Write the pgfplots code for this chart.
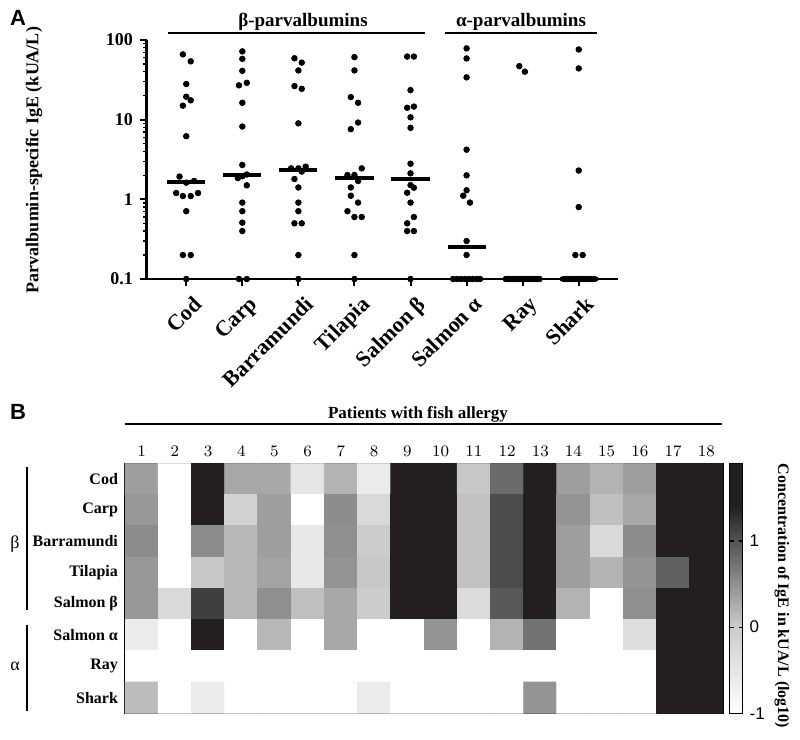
\documentclass[border=0pt]{standalone}
\usepackage{fontspec}
\setmainfont{Liberation Serif}
\newfontfamily\arial{Liberation Sans}
\usepackage{pgfplots}
\usepackage{pgfplotstable}
\pgfplotsset{compat=1.18}

% IgE per patient, x = category index + jitter
\pgfplotstableread{
x y
-0.06 66
0.08 54
0 28
0 19.4
0.08 17.5
-0.06 15
0 6.2
-0.12 1.93
0 1.62
0.14 1.7
-0.18 1.2
-0.06 1.1
0.08 1.1
0.21 1.2
0 0.71
-0.06 0.2
0.08 0.2
0 0.1
1 72
1 58
1 41
0.94 27
1.08 29
1 16.3
1 8.2
1 2.7
0.92 1.85
1 1.95
1.08 2.05
1.08 1.5
1 0.91
1 0.71
1 0.51
1 0.40
0.94 0.1
1.08 0.1
1.93 59
2.06 52
2 41.5
1.93 26.4
2.06 24.4
2 9.0
1.87 2.45
2 2.45
2.13 2.57
2.06 2.23
1.93 1.8
2 1.41
2 0.91
2 0.71
1.93 0.5
2.06 0.5
2 0.2
2 0.1
3 61
3 41.5
2.935 19.2
3.065 16.3
3.065 9.2
2.935 7.6
3.13 2.45
2.875 2.02
3 2.02
3.065 1.7
2.935 1.41
2.935 1.11
3.065 0.91
2.875 0.71
3 0.6
3.13 0.6
3 0.2
3 0.1
3.94 62
4.06 62
4 23.5
3.94 14.1
4.06 14.6
4 10.7
4 7.9
4 2.8
4 2.12
4 1.51
4.06 1.40
3.94 1.21
4 0.91
4.06 0.60
3.94 0.50
3.94 0.40
4.06 0.40
4 0.1
5 78.5
5 58.7
5 34
5 4.2
5 2.0
5 1.3
4.94 1.11
5.06 0.91
5 0.3
5 0.2
4.76 0.1
4.83 0.1
4.9 0.1
4.97 0.1
5.04 0.1
5.11 0.1
5.18 0.1
5.24 0.1
5.94 47
6.04 40
5.70 0.1
5.74 0.1
5.78 0.1
5.82 0.1
5.86 0.1
5.90 0.1
5.94 0.1
5.98 0.1
6.02 0.1
6.06 0.1
6.10 0.1
6.14 0.1
6.18 0.1
6.22 0.1
6.26 0.1
6.30 0.1
7 76
7 44
7 2.3
7 0.8
6.94 0.2
7.07 0.2
6.73 0.1
6.78 0.1
6.83 0.1
6.88 0.1
6.93 0.1
6.98 0.1
7.03 0.1
7.08 0.1
7.13 0.1
7.18 0.1
7.23 0.1
7.28 0.1
}\igedata

\pgfplotstableread{
x y
0 1.66
1 2.0
2 2.31
3 1.87
4 1.82
5 0.25
6 0.1
7 0.1
}\medians

\pgfplotsset{colormap={igegray}{rgb255(0cm)=(255,255,255); rgb255(1cm)=(204,204,204); rgb255(2cm)=(84,84,84); rgb255(2.4cm)=(35,31,32); rgb255(2.9cm)=(35,31,32)}}

\begin{document}
\begin{tikzpicture}
\useasboundingbox (0,0) rectangle (400pt,-370pt);

% ---- panel A ----
\node[font=\arial\bfseries\fontsize{11}{13}\selectfont] at (9pt,-9pt) {A};
\node[font=\bfseries\fontsize{9}{10}\selectfont, rotate=90] at (17pt,-80pt) {Parvalbumin-specific IgE (kUA/L)};
\node[font=\bfseries\fontsize{9.5}{11}\selectfont] at (151.5pt,-11pt) {β-parvalbumins};
\node[font=\bfseries\fontsize{9.5}{11}\selectfont] at (260.5pt,-11pt) {α-parvalbumins};
\draw[line width=0.8pt] (84pt,-16.5pt) -- (212.5pt,-16.5pt);
\draw[line width=0.8pt] (222.5pt,-16.5pt) -- (298.5pt,-16.5pt);

\begin{axis}[
    at={(73.5pt,-139.5pt)}, anchor=south west,
    scale only axis, width=235.5pt, height=119.5pt,
    ymode=log, ymin=0.1, ymax=100, xmin=-0.7, xmax=7.7,
    axis x line*=bottom, axis y line*=left,
    axis line style={-},
    x axis line style={line width=1pt},
    y axis line style={line width=1.5pt},
    clip=false,
    tick align=outside,
    major tick length=3.5pt, minor tick length=2pt,
    tick style={black, line width=1pt},
    minor tick style={line width=0.7pt},
    ytick={0.1,1,10,100}, yticklabels={0.1,1,10,100},
    minor ytick={0.2,0.3,0.4,0.5,0.6,0.7,0.8,0.9,2,3,4,5,6,7,8,9,20,30,40,50,60,70,80,90},
    yticklabel style={font=\bfseries\fontsize{9}{10}\selectfont},
    xtick={0,...,7},
    xticklabels={Cod,Carp,Barramundi,Tilapia,Salmon β,Salmon α,Ray,Shark},
    xticklabel style={rotate=45, anchor=north east, font=\bfseries\fontsize{11}{12}\selectfont,
        inner sep=1pt, yshift=-4pt},
]
\addplot[only marks, mark=*, mark size=1.4pt, black] table {\igedata};
\addplot[draw=none, mark=none, error bars/.cd, x dir=both, x fixed=0.34, error mark=none,
    error bar style={line width=2pt, black}] table {\medians};
\end{axis}

% ---- panel B ----
\node[font=\arial\bfseries\fontsize{11}{13}\selectfont] at (9pt,-206pt) {B};
\node[font=\bfseries\fontsize{8.5}{10}\selectfont] at (209pt,-207pt) {Patients with fish allergy};
\draw[line width=0.9pt] (62.5pt,-212pt) -- (361pt,-212pt);
\draw[line width=1pt] (13.5pt,-233.5pt) -- (13.5pt,-305pt);
\draw[line width=1pt] (13.5pt,-312.5pt) -- (13.5pt,-355.5pt);
\node[font=\fontsize{9}{10}\selectfont] at (7.5pt,-272pt) {β};
\node[font=\fontsize{9}{10}\selectfont] at (7.5pt,-333pt) {α};
\node[font=\bfseries\fontsize{8}{9}\selectfont, rotate=-90] at (391pt,-298pt) {Concentration of IgE in kUA/L (log10)};

\begin{axis}[
    at={(62.5pt,-356.67pt)}, anchor=south west,
    scale only axis, width=299pt, height=125pt,
    xmin=0.5, xmax=18.5, ymin=0.5, ymax=8.5, y dir=reverse,
    enlargelimits=false,
    axis line style={line width=0.8pt},
    xtick={1,...,18}, xticklabel pos=upper,
    ytick={1,...,8},
    yticklabels={Cod,Carp,Barramundi,Tilapia,Salmon β,Salmon α,Ray,Shark},
    major tick length=0pt,
    xticklabel style={font=\bfseries\fontsize{8.5}{10}\selectfont},
    yticklabel style={font=\bfseries\fontsize{8}{10}\selectfont},
    colormap name=igegray,
    point meta min=-1, point meta max=1.9,
    colorbar,
    colorbar shift/.style={xshift=3.3pt},
    colorbar style={
        width=6.5pt,
        at={(parent axis.north east)}, anchor=north west,
        ytick={-1,0,1}, yticklabels={-1,0,1},
        yticklabel style={font=\arial\fontsize{8.5}{10}\selectfont},
        major tick length=2pt, tick align=inside,
        tick style={black, line width=0.6pt},
        axis line style={line width=0.6pt},
    },
]
\addplot[matrix plot*, mesh/cols=18, point meta=explicit] coordinates {
(1,1)[0.38] (2,1)[-1] (3,1)[1.9] (4,1)[0.30] (5,1)[0.30] (6,1)[-0.5] (7,1)[0.21] (8,1)[-0.6] (9,1)[1.9] (10,1)[1.9] (11,1)[0.04] (12,1)[0.81] (13,1)[1.9] (14,1)[0.38] (15,1)[0.21] (16,1)[0.38] (17,1)[1.9] (18,1)[1.9]
(1,2)[0.43] (2,2)[-1] (3,2)[1.9] (4,2)[-0.1] (5,2)[0.38] (6,2)[-1] (7,2)[0.53] (8,2)[-0.25] (9,2)[1.9] (10,2)[1.9] (11,2)[0.085] (12,2)[1.06] (13,2)[1.9] (14,2)[0.47] (15,2)[0.11] (16,2)[0.30] (17,2)[1.9] (18,2)[1.9]
(1,3)[0.53] (2,3)[-1] (3,3)[0.53] (4,3)[0.17] (5,3)[0.38] (6,3)[-0.55] (7,3)[0.51] (8,3)[0] (9,3)[1.9] (10,3)[1.9] (11,3)[0.085] (12,3)[1.06] (13,3)[1.9] (14,3)[0.38] (15,3)[-0.25] (16,3)[0.53] (17,3)[1.9] (18,3)[1.9]
(1,4)[0.43] (2,4)[-1] (3,4)[0.04] (4,4)[0.17] (5,4)[0.34] (6,4)[-0.55] (7,4)[0.47] (8,4)[0.04] (9,4)[1.9] (10,4)[1.9] (11,4)[0.085] (12,4)[1.06] (13,4)[1.9] (14,4)[0.38] (15,4)[0.21] (16,4)[0.47] (17,4)[0.89] (18,4)[1.9]
(1,5)[0.43] (2,5)[-0.25] (3,5)[1.16] (4,5)[0.17] (5,5)[0.51] (6,5)[0.11] (7,5)[0.30] (8,5)[0] (9,5)[1.9] (10,5)[1.9] (11,5)[-0.3] (12,5)[0.96] (13,5)[1.9] (14,5)[0.21] (15,5)[-1] (16,5)[0.51] (17,5)[1.9] (18,5)[1.9]
(1,6)[-0.6] (2,6)[-1] (3,6)[1.9] (4,6)[-1] (5,6)[0.17] (6,6)[-1] (7,6)[0.30] (8,6)[-1] (9,6)[-1] (10,6)[0.47] (11,6)[-1] (12,6)[0.21] (13,6)[0.74] (14,6)[-1] (15,6)[-1] (16,6)[-0.35] (17,6)[1.9] (18,6)[1.9]
(1,7)[-1] (2,7)[-1] (3,7)[-1] (4,7)[-1] (5,7)[-1] (6,7)[-1] (7,7)[-1] (8,7)[-1] (9,7)[-1] (10,7)[-1] (11,7)[-1] (12,7)[-1] (13,7)[-1] (14,7)[-1] (15,7)[-1] (16,7)[-1] (17,7)[1.9] (18,7)[1.9]
(1,8)[0.13] (2,8)[-1] (3,8)[-0.6] (4,8)[-1] (5,8)[-1] (6,8)[-1] (7,8)[-1] (8,8)[-0.6] (9,8)[-1] (10,8)[-1] (11,8)[-1] (12,8)[-1] (13,8)[0.47] (14,8)[-1] (15,8)[-1] (16,8)[-1] (17,8)[1.9] (18,8)[1.9]
};
\end{axis}
\end{tikzpicture}
\end{document}
